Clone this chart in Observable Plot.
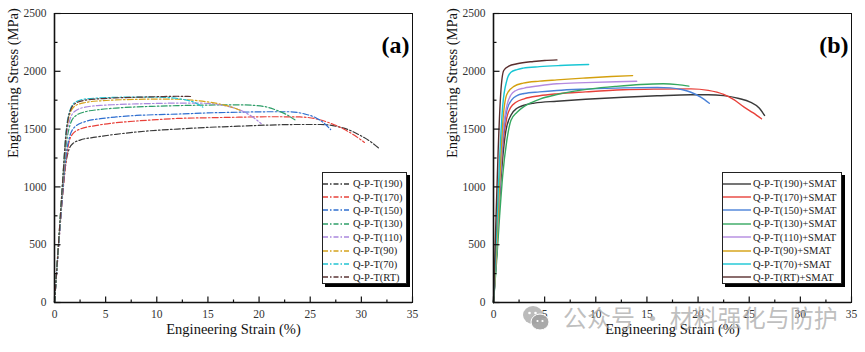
<!DOCTYPE html>
<html>
<head>
<meta charset="utf-8">
<script src="https://cdn.jsdelivr.net/npm/d3@7"></script>
<script src="https://cdn.jsdelivr.net/npm/@observablehq/plot@0.6"></script>
<style>
  html, body { margin: 0; padding: 0; background: #fff; }
  #wrap { position: relative; width: 865px; height: 352px; overflow: hidden; font-family: "Liberation Serif", serif; }
  .panel { position: absolute; top: 0; }
  .legend { position: absolute; background: #fff; border: 1px solid #222; box-shadow: 3px 3px 0 #000; box-sizing: border-box; padding-top: 4px; }
  .legend .row { display: flex; align-items: center; height: 13.4px; font-size: 10.5px; color: #222; white-space: nowrap; }
  .legend svg { flex: none; margin-right: 2px; }
  .wm { position: absolute; color: rgba(170,170,170,0.75); font-family: "Noto Sans CJK SC", sans-serif; font-size: 24px; line-height: 24px; white-space: nowrap; }
</style>
</head>
<body>
<div id="wrap"></div>
<script>
// ---------- data ----------
const xTicks = [0, 5, 10, 15, 20, 25, 30, 35];
const xMinor = [2.5, 7.5, 12.5, 17.5, 22.5, 27.5, 32.5];
const yTicks = [0, 500, 1000, 1500, 2000, 2500];
const yMinor = [250, 750, 1250, 1750, 2250];

const labelsA = ["Q-P-T(190)", "Q-P-T(170)", "Q-P-T(150)", "Q-P-T(130)", "Q-P-T(110)", "Q-P-T(90)", "Q-P-T(70)", "Q-P-T(RT)"];
const labelsB = ["Q-P-T(190)+SMAT", "Q-P-T(170)+SMAT", "Q-P-T(150)+SMAT", "Q-P-T(130)+SMAT", "Q-P-T(110)+SMAT", "Q-P-T(90)+SMAT", "Q-P-T(70)+SMAT", "Q-P-T(RT)+SMAT"];
const colorsA = ["#3a3a3a", "#e8413a", "#2f6fd0", "#2e9e68", "#a987dd", "#d5a21c", "#22c4d2", "#5b3535"];
const colorsB = ["#3a3a3a", "#e8413a", "#4a82d8", "#35a860", "#b48ae0", "#d4a00e", "#18c6d4", "#5a2e2e"];

// Panel (a): [strain %, stress MPa]
const a190 = [[0,0],[0.4,500],[0.8,950],[1.1,1200],[1.4,1320],[1.8,1375],[2.5,1405],[4,1430],[6,1455],[8,1475],[10,1490],[12,1500],[15,1515],[18,1525],[21,1535],[24,1540],[26,1540],[27.5,1525],[29,1485],[30,1440],[31,1385],[31.7,1335]];
const a170 = [[0,0],[0.4,480],[0.8,930],[1.1,1200],[1.4,1380],[1.8,1460],[2.5,1500],[4,1530],[6,1555],[8,1570],[10,1582],[12,1592],[15,1598],[18,1603],[21,1607],[24,1605],[25.5,1590],[27,1550],[28.5,1490],[29.5,1435],[30.3,1385]];
const a150 = [[0,0],[0.4,480],[0.8,950],[1.1,1250],[1.5,1440],[2,1520],[3,1565],[4.5,1590],[6,1605],[8,1618],[10,1625],[12,1630],[15,1640],[18,1646],[21,1650],[23,1650],[24.5,1630],[25.5,1600],[26.3,1555],[27,1496]];
const a130 = [[0,0],[0.4,500],[0.8,1000],[1.1,1330],[1.5,1530],[2,1610],[3,1650],[4.5,1670],[6,1682],[8,1692],[10,1698],[12,1703],[15,1708],[18,1710],[19.5,1705],[20.8,1690],[21.8,1660],[22.8,1620],[23.5,1580]];
const a110 = [[0,0],[0.4,500],[0.8,1020],[1.1,1380],[1.5,1580],[2,1655],[3,1690],[4.5,1705],[6,1712],[8,1718],[10,1722],[12,1725],[14,1725],[15.5,1718],[16.8,1700],[18,1670],[19.2,1615],[20.2,1548]];
const a90  = [[0,0],[0.4,520],[0.8,1050],[1.1,1420],[1.5,1630],[2,1700],[3,1730],[4.5,1745],[6,1752],[8,1757],[10,1760],[12,1758],[13.5,1750],[15,1735],[16.5,1710],[17.5,1685],[18.2,1660]];
const a70  = [[0,0],[0.4,520],[0.8,1060],[1.1,1450],[1.5,1660],[2,1730],[3,1760],[4.5,1770],[6,1775],[8,1777],[10,1776],[11.5,1770],[12.7,1755],[13.7,1730],[14.5,1690]];
const aRT  = [[0,0],[0.4,520],[0.8,1050],[1.1,1430],[1.5,1650],[2,1720],[3,1750],[4.5,1763],[6,1770],[8,1776],[10,1780],[12,1784],[13.3,1782]];

// Panel (b): [strain %, stress MPa]
const b190 = [[0,0],[0.3,400],[0.6,900],[0.9,1250],[1.2,1480],[1.7,1620],[2.3,1680],[2.9,1704],[4,1725],[6.2,1741],[9,1758],[12.7,1776],[16,1788],[19.3,1797],[21,1797],[22.5,1790],[24,1765],[25.1,1733],[26,1680],[26.5,1618]];
const b170 = [[0,0],[0.3,420],[0.6,950],[0.9,1350],[1.3,1600],[1.7,1690],[2.2,1732],[3,1762],[4.5,1788],[6.2,1805],[9,1822],[12.7,1840],[16,1846],[19.3,1848],[21,1835],[22.5,1800],[23.5,1755],[24.5,1690],[25.4,1640],[26.2,1589]];
const b150 = [[0,0],[0.3,430],[0.6,970],[0.9,1400],[1.3,1660],[1.8,1755],[2.3,1790],[3,1808],[4.5,1822],[6.2,1834],[9,1846],[12.7,1857],[16,1860],[17.3,1857],[18.5,1840],[19.3,1819],[20.3,1775],[21.1,1724]];
const b130 = [[0,0],[0.3,350],[0.6,750],[0.9,1100],[1.3,1400],[1.7,1574],[2.3,1645],[2.9,1690],[3.7,1730],[4.6,1762],[6,1795],[7.5,1822],[9.5,1848],[12,1870],[14.4,1886],[16.6,1892],[18,1885],[19.1,1872]];
const b110 = [[0,0],[0.3,450],[0.6,1000],[0.9,1450],[1.3,1700],[1.7,1795],[2.2,1834],[3,1855],[4.5,1875],[6.2,1892],[9,1902],[12,1910],[14,1914]];
const b90  = [[0,0],[0.3,480],[0.6,1050],[0.9,1550],[1.3,1800],[2,1870],[2.9,1898],[4.5,1915],[6.2,1926],[9,1942],[11.5,1955],[13.6,1963]];
const b70  = [[0,0],[0.3,600],[0.6,1250],[0.9,1700],[1.3,1920],[1.7,1992],[2.3,2015],[2.9,2027],[4.5,2040],[6.5,2050],[9.3,2059]];
const bRT  = [[0,0],[0.2,600],[0.45,1300],[0.7,1800],[1,2007],[1.5,2045],[2.3,2065],[3.9,2085],[5,2094],[6.2,2099]];

const seriesA = [a190, a170, a150, a130, a110, a90, a70, aRT];
const seriesB = [b190, b170, b150, b130, b110, b90, b70, bRT];

// ---------- drawing ----------
const dashDot = "6,2.2,1.6,2.2";
const tickUp = len => ({draw(ctx) { ctx.moveTo(0, 0); ctx.lineTo(0, -len); }});
const tickRight = len => ({draw(ctx) { ctx.moveTo(0, 0); ctx.lineTo(len, 0); }});

function panel({width, marginLeft, marginRight, series, colors, dash, sw, tag}) {
  const lines = series.map((s, i) => Plot.line(s, {
    x: d => d[0], y: d => d[1], stroke: colors[i], strokeWidth: sw,
    strokeDasharray: dash, curve: "monotone-x"
  }));
  return Plot.plot({
    width, height: 352, marginLeft, marginRight, marginTop: 13, marginBottom: 50,
    style: {fontFamily: "Liberation Serif, serif", fontSize: "11.5px", color: "#333", background: "transparent", overflow: "visible"},
    x: {domain: [0, 35]},
    y: {domain: [0, 2500]},
    marks: [
      ...lines,
      Plot.frame({stroke: "#111", strokeWidth: 1}),
      Plot.ruleX([0], {stroke: "#111", strokeWidth: 1.6}),
      Plot.ruleY([0], {stroke: "#111", strokeWidth: 1.6}),
      Plot.dot(xTicks, {x: d => d, y: () => 0, symbol: tickUp(6), stroke: "#111", fill: "none", strokeWidth: 1.2}),
      Plot.dot(xMinor, {x: d => d, y: () => 0, symbol: tickUp(3), stroke: "#111", fill: "none", strokeWidth: 1.2}),
      Plot.dot(yTicks, {x: () => 0, y: d => d, symbol: tickRight(6), stroke: "#111", fill: "none", strokeWidth: 1.2}),
      Plot.dot(yMinor, {x: () => 0, y: d => d, symbol: tickRight(3), stroke: "#111", fill: "none", strokeWidth: 1.2}),
      Plot.axisX({ticks: xTicks, tickSize: 0, tickPadding: 7, tickFormat: d => String(d), label: null}),
      Plot.axisY({ticks: yTicks, tickSize: 0, tickPadding: 8, tickFormat: d => String(d), label: null}),
      Plot.text(["Engineering Strain (%)"], {frameAnchor: "bottom", dy: 31, fontSize: 14.5, fill: "#111"}),
      Plot.text(["Engineering Stress (MPa)"], {frameAnchor: "left", dx: -41, rotate: -90, fontSize: 14.5, fill: "#111"}),
      Plot.text([tag], {frameAnchor: "top-right", dx: -3, dy: 22, fontSize: 24, fontWeight: "bold", textAnchor: "end", fill: "#000"})
    ]
  });
}

const wrap = document.getElementById("wrap");

const pa = panel({width: 440, marginLeft: 54, marginRight: 28, series: seriesA, colors: colorsA, dash: dashDot, sw: 1.2, tag: "(a)"});
pa.classList.add("panel"); pa.style.left = "0px";
wrap.appendChild(pa);

const pb = panel({width: 425, marginLeft: 53, marginRight: 14, series: seriesB, colors: colorsB, dash: null, sw: 1.4, tag: "(b)"});
pb.classList.add("panel"); pb.style.left = "440px";
wrap.appendChild(pb);

function legend(left, top, width, labels, colors, dash) {
  const box = document.createElement("div");
  box.className = "legend";
  box.style.left = left + "px"; box.style.top = top + "px";
  box.style.width = width + "px"; box.style.height = "112px";
  labels.forEach((lab, i) => {
    const row = document.createElement("div");
    row.className = "row";
    row.innerHTML = `<svg width="28" height="6"><line x1="0" y1="3" x2="28" y2="3" stroke="${colors[i]}" stroke-width="1.4" ${dash ? `stroke-dasharray="${dash}"` : ""}/></svg><span>${lab}</span>`;
    box.appendChild(row);
  });
  wrap.appendChild(box);
}
legend(322, 172, 85, labelsA, colorsA, "5,2,1.5,2");
legend(722, 172, 120, labelsB, colorsB, null);

// watermark overlay present in the reference image
const icon = document.createElement("div");
icon.style.cssText = "position:absolute;left:522px;top:304px;";
icon.innerHTML = `<svg width="28" height="28"><ellipse cx="11" cy="11" rx="10" ry="9" fill="rgba(170,170,170,0.8)"/><ellipse cx="18" cy="18" rx="9" ry="8" fill="rgba(160,160,160,0.9)" stroke="#fff" stroke-width="1"/><circle cx="7.5" cy="9" r="1.3" fill="#fff"/><circle cx="13.5" cy="9" r="1.3" fill="#fff"/><circle cx="15.5" cy="17" r="1.1" fill="#fff"/><circle cx="20.5" cy="17" r="1.1" fill="#fff"/></svg>`;
wrap.appendChild(icon);
const wm = document.createElement("div");
wm.className = "wm";
wm.style.left = "563px"; wm.style.top = "305px";
wm.textContent = "公众号 · 材料强化与防护";
wrap.appendChild(wm);
</script>
</body>
</html>
